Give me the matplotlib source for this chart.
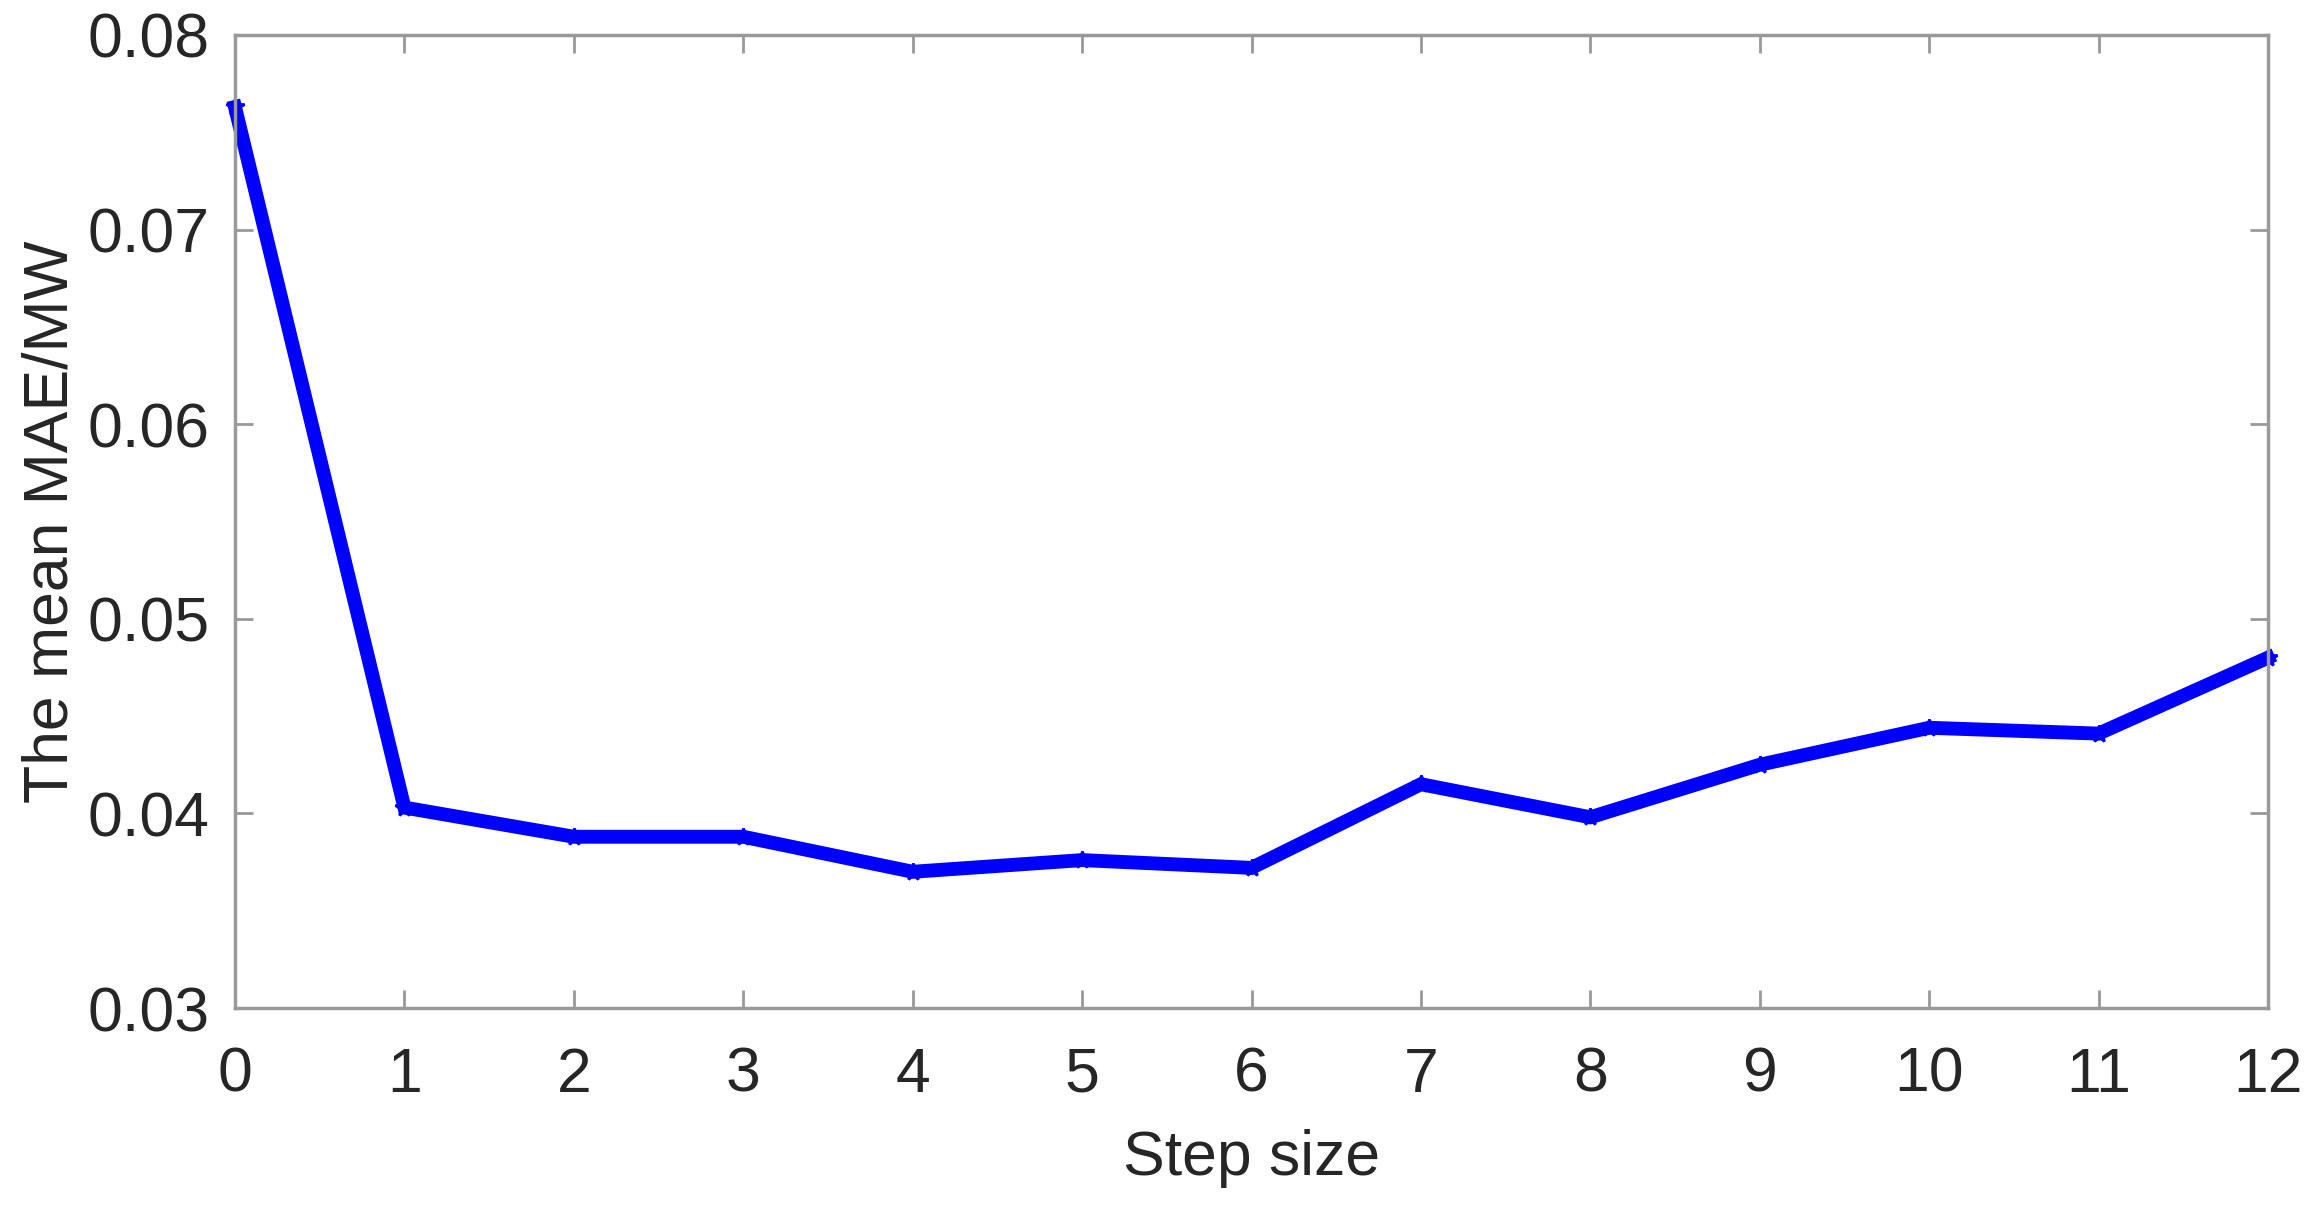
import matplotlib
matplotlib.use("Agg")
import matplotlib.pyplot as plt

step_size = [0, 1, 2, 3, 4, 5, 6, 7, 8, 9, 10, 11, 12]
mean_mae = [0.0763, 0.0403, 0.0388, 0.0388, 0.0370, 0.0376, 0.0372,
            0.0415, 0.0398, 0.0425, 0.0444, 0.0441, 0.0480]
x_ticks = list(range(0, 13))
y_ticks = [0.03, 0.04, 0.05, 0.06, 0.07, 0.08]
y_tick_labels = ["0.03", "0.04", "0.05", "0.06", "0.07", "0.08"]

plt.rcParams['font.family'] = ['Liberation Sans', 'DejaVu Sans']

fig = plt.figure(figsize=(23.21, 12.06), dpi=100)
ax = fig.add_axes([235/2321, 1 - 1008/1206, (2268-235)/2321, (1008-35)/1206])

ax.plot(step_size, mean_mae, color='#0000ff', linewidth=10, marker='*',
        markersize=13, markeredgewidth=2, clip_on=False, solid_joinstyle='miter')

ax.set_xlim(0, 12)
ax.set_ylim(0.03, 0.08)
ax.set_xticks(x_ticks)
ax.set_yticks(y_ticks)
ax.set_yticklabels(y_tick_labels)

spine_col = '#999999'
for s in ax.spines.values():
    s.set_color(spine_col)
    s.set_linewidth(2.5)
ax.tick_params(direction='in', length=13, width=2, colors=spine_col,
               top=True, right=True, labelsize=45, labelcolor='#262626')
ax.tick_params(axis='x', pad=27)
ax.tick_params(axis='y', pad=18)

ax.set_xlabel('Step size', fontsize=45, color='#262626', labelpad=18)
ax.set_ylabel('The mean MAE/MW', fontsize=45, color='#262626', labelpad=5)

fig.savefig('out.png', dpi=100)
